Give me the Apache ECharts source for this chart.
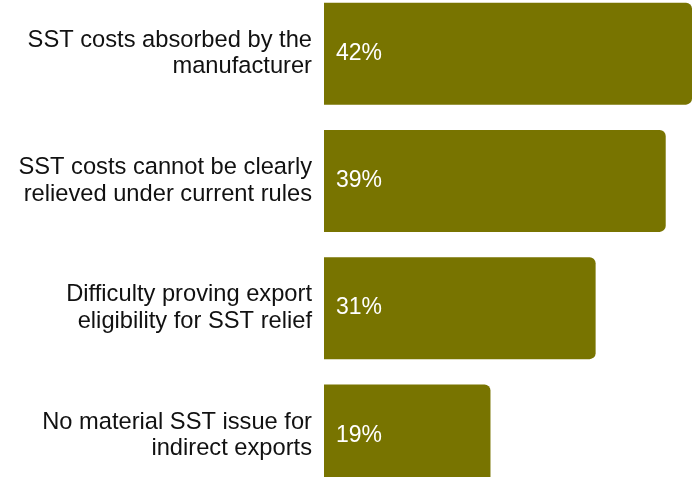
<!DOCTYPE html>
<html>
<head>
<meta charset="utf-8">
<script src="https://cdn.jsdelivr.net/npm/echarts@6/dist/echarts.min.js"></script>
<style>
  html, body { margin: 0; padding: 0; background: #ffffff; }
  #chart { width: 697px; height: 477px; }
</style>
</head>
<body>
<div id="chart"></div>
<script>
// Survey responses on SST treatment for indirect exports
const categories = [
  'SST costs absorbed by the\nmanufacturer',
  'SST costs cannot be clearly\nrelieved under current rules',
  'Difficulty proving export\neligibility for SST relief',
  'No material SST issue for\nindirect exports'
];
const shares = [42, 39, 31, 19];

const chart = echarts.init(document.getElementById('chart'), null, { renderer: 'canvas' });

chart.setOption({
  animation: false,
  backgroundColor: '#ffffff',
  grid: {
    left: 324, right: 5, top: -10, height: 509,
    containLabel: false,
    outerBoundsMode: 'none'
  },
  xAxis: {
    type: 'value',
    min: 0,
    max: 42,
    show: false
  },
  yAxis: {
    type: 'category',
    data: categories,
    inverse: true,
    axisLine: { show: false },
    axisTick: { show: false },
    splitLine: { show: false },
    axisLabel: {
      margin: 12,
      color: '#111111',
      fontFamily: '"Liberation Sans", Arial, sans-serif',
      fontSize: 23.7,
      lineHeight: 26.5,
      align: 'right'
    }
  },
  series: [{
    type: 'bar',
    data: shares,
    barWidth: 102,
    itemStyle: { color: '#787400', borderRadius: [0, 6, 6, 0] },
    label: {
      show: true,
      position: 'insideLeft',
      distance: 12,
      color: '#ffffff',
      fontFamily: '"Liberation Sans", Arial, sans-serif',
      fontSize: 23,
      formatter: p => p.value + '%'
    }
  }]
});
</script>
</body>
</html>
